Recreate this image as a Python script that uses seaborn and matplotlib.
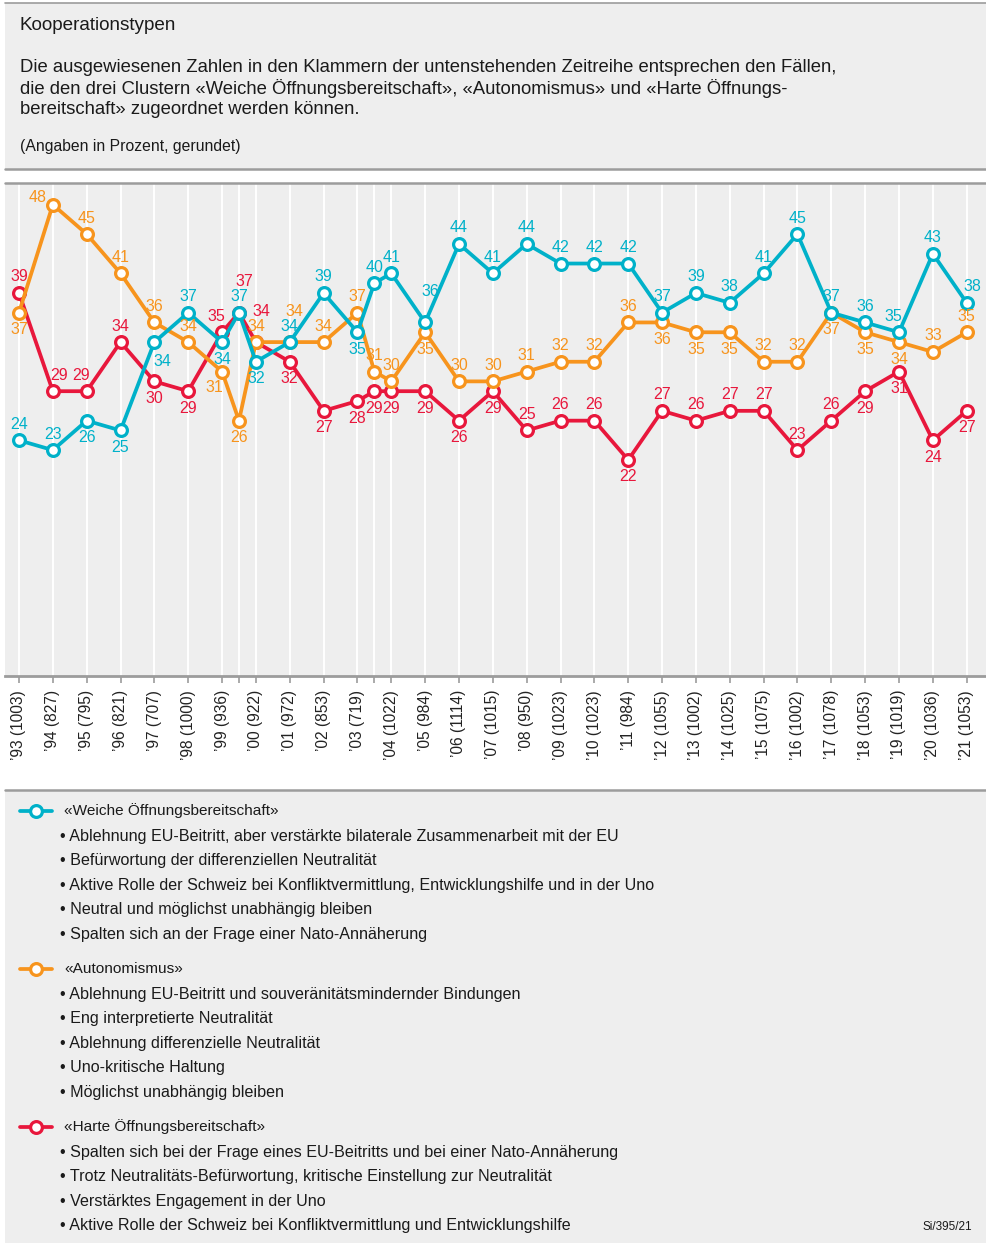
import matplotlib
matplotlib.use("Agg")
import matplotlib.pyplot as plt
from matplotlib.patches import Rectangle
from matplotlib.lines import Line2D
import seaborn as sns

# survey positions (1999 and 2003 had an extra survey mid-year)
survey_x = [1993, 1994, 1995, 1996, 1997, 1998, 1999, 1999.5, 2000, 2001, 2002,
            2003, 2003.5, 2004, 2005, 2006, 2007, 2008, 2009, 2010, 2011, 2012,
            2013, 2014, 2015, 2016, 2017, 2018, 2019, 2020, 2021]
survey_lbl = ["’93 (1003)", "’94 (827)", "’95 (795)", "’96 (821)", "’97 (707)",
              "’98 (1000)", "’99 (936)", "", "’00 (922)", "’01 (972)", "’02 (853)",
              "’03 (719)", "", "’04 (1022)", "’05 (984)", "’06 (1114)", "’07 (1015)",
              "’08 (950)", "’09 (1023)", "’10 (1023)", "’11 (984)", "’12 (1055)",
              "’13 (1002)", "’14 (1025)", "’15 (1075)", "’16 (1002)", "’17 (1078)",
              "’18 (1053)", "’19 (1019)", "’20 (1036)", "’21 (1053)"]

weiche = [24, 23, 26, 25, 34, 37, 34, 37, 32, 34, 39, 35, 40, 41, 36, 44, 41, 44,
          42, 42, 42, 37, 39, 38, 41, 45, 37, 36, 35, 43, 38]
autonom = [37, 48, 45, 41, 36, 34, 31, 26, 34, 34, 34, 37, 31, 30, 35, 30, 30, 31,
           32, 32, 36, 36, 35, 35, 32, 32, 37, 35, 34, 33, 35]
harte = [39, 29, 29, 34, 30, 29, 35, 37, 34, 32, 27, 28, 29, 29, 29, 26, 29, 25,
         26, 26, 22, 27, 26, 27, 27, 23, 26, 29, 31, 24, 27]

series_names = ["«Weiche Öffnungsbereitschaft»", "«Autonomismus»",
                "«Harte Öffnungsbereitschaft»"]
bullets = [
    ["Ablehnung EU-Beitritt, aber verstärkte bilaterale Zusammenarbeit mit der EU",
     "Befürwortung der differenziellen Neutralität",
     "Aktive Rolle der Schweiz bei Konfliktvermittlung, Entwicklungshilfe und in der Uno",
     "Neutral und möglichst unabhängig bleiben",
     "Spalten sich an der Frage einer Nato-Annäherung"],
    ["Ablehnung EU-Beitritt und souveränitätsmindernder Bindungen",
     "Eng interpretierte Neutralität",
     "Ablehnung differenzielle Neutralität",
     "Uno-kritische Haltung",
     "Möglichst unabhängig bleiben"],
    ["Spalten sich bei der Frage eines EU-Beitritts und bei einer Nato-Annäherung",
     "Trotz Neutralitäts-Befürwortung, kritische Einstellung zur Neutralität",
     "Verstärktes Engagement in der Uno",
     "Aktive Rolle der Schweiz bei Konfliktvermittlung und Entwicklungshilfe"],
]

# label placement per point (style only)
pos_w = ["a", "a", "b", "b", "br", "a", "b", "a", "b", "a", "a", "b", "a", "a", "aa",
         "a", "a", "a", "a", "a", "a", "a", "a", "a", "a", "a", "a", "a", "al", "a", "ar"]
pos_a = ["b", "l", "a", "a", "a", "a", "bl", "b", "a", "aa", "a", "a", "a", "a", "b",
         "a", "a", "a", "a", "a", "a", "b", "b", "b", "a", "a", "b", "b", "b", "a", "a"]
pos_h = ["a", "ar", "al", "a", "b", "b", "al", "aa", "aa", "b", "b", "b", "b", "b", "b",
         "b", "b", "a", "a", "a", "b", "a", "a", "a", "a", "a", "a", "b", "b", "b", "b"]
offsets = {"a": (0, 16), "b": (0, -17), "aa": (5, 31), "al": (-6, 16), "ar": (6, 16),
           "br": (8, -19), "bl": (-8, -16), "l": (-15, 7)}

BLUE, ORANGE, RED = "#00b1c9", "#f7941d", "#e8173c"
PANEL = "#eeeeee"
LINEC = "#9c9c9c"
TXT = "#1a1a1a"

sns.set_theme(style="white")
plt.rcParams["font.family"] = ["Liberation Sans", "DejaVu Sans"]

W, H = 987, 1243
fig = plt.figure(figsize=(W / 100, H / 100), dpi=100)


def fx(px):
    return px / W


def fy(py):
    return 1 - py / H


def hline(py, lw):
    fig.lines.append(Line2D([fx(5), 1], [fy(py), fy(py)], transform=fig.transFigure,
                            color=LINEC, lw=lw, zorder=1))


def panel(y0, y1):
    fig.patches.append(Rectangle((fx(5), fy(y1)), fx(987) - fx(5), fy(y0) - fy(y1),
                                 transform=fig.transFigure, facecolor=PANEL,
                                 edgecolor="none", zorder=0))


# header
panel(3, 169)
hline(3, 1.2)
hline(169, 1.8)
fig.text(fx(20), fy(25), "Kooperationstypen", fontsize=13.6, va="center", color=TXT)
intro = ["Die ausgewiesenen Zahlen in den Klammern der untenstehenden Zeitreihe entsprechen den Fällen,",
         "die den drei Clustern «Weiche Öffnungsbereitschaft», «Autonomismus» und «Harte Öffnungs-",
         "bereitschaft» zugeordnet werden können."]
for i, line in enumerate(intro):
    fig.text(fx(20), fy(67 + i * 21.5), line, fontsize=13.3, va="center", color=TXT)
fig.text(fx(20), fy(147), "(Angaben in Prozent, gerundet)", fontsize=11.3, va="center",
         color=TXT)

# chart
ax = fig.add_axes([fx(5), fy(676), fx(987) - fx(5), fy(183) - fy(676)])
ax.set_facecolor(PANEL)
hline(183, 1.8)

series = [(harte, RED, pos_h, 3), (autonom, ORANGE, pos_a, 4), (weiche, BLUE, pos_w, 5)]
for vals, col, pos, z in series:
    sns.lineplot(x=survey_x, y=vals, ax=ax, color=col, lw=2.7, marker="o",
                 markersize=8.5, markerfacecolor="white", markeredgecolor=col,
                 markeredgewidth=2.3, zorder=z, sort=False)
    for xv, yv, p in zip(survey_x, vals, pos):
        dx, dy = offsets[p]
        ax.annotate(str(yv), (xv, yv), xytext=(dx, dy), textcoords="offset pixels",
                    ha="center", va="center", fontsize=11.5, color=col, zorder=10)

ax.set_xlim(1992.587, 2021.6)
ax.set_ylim(0, 50.2)
ax.set_xticks(survey_x)
ax.set_xticklabels(survey_lbl, rotation=90, fontsize=11.2, color="#222222")
ax.set_yticks([])
ax.grid(axis="x", color="white", lw=1.4)
ax.grid(axis="y", visible=False)
ax.tick_params(axis="x", direction="out", length=5, width=1.2, color=LINEC, pad=5,
               bottom=True)
for s in ["top", "left", "right"]:
    ax.spines[s].set_visible(False)
ax.spines["bottom"].set_color(LINEC)
ax.spines["bottom"].set_linewidth(2)
ax.set_xlabel("")
ax.set_ylabel("")

# legend panel
panel(790, 1243)
hline(790, 1.8)
starts = [811, 969, 1127]
for name, col, items, y0 in zip(series_names, [BLUE, ORANGE, RED], bullets, starts):
    fig.lines.append(Line2D([fx(20), fx(52)], [fy(y0), fy(y0)], transform=fig.transFigure,
                            color=col, lw=2.7))
    fig.lines.append(Line2D([fx(36)], [fy(y0)], transform=fig.transFigure, color=col,
                            marker="o", markersize=8.5, markerfacecolor="white",
                            markeredgecolor=col, markeredgewidth=2.3, lw=0))
    fig.text(fx(64), fy(y0), name, fontsize=11.1, va="center", color=TXT)
    for j, txt in enumerate(items):
        fig.text(fx(60), fy(y0 + 25 + j * 24.6), "• " + txt, fontsize=11.6, va="center",
                 color=TXT)
fig.text(fx(972), fy(1227), "Si/395/21", fontsize=8.5, ha="right", va="center",
         color=TXT)

fig.savefig("out.png", dpi=100, facecolor="white")
